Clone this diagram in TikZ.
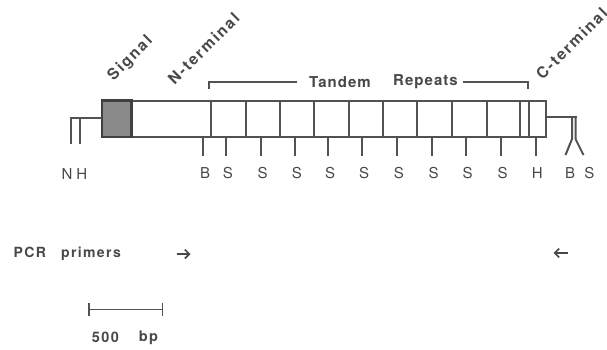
\documentclass[tikz,border=0pt]{standalone}
\usepackage{fontspec}
\setmainfont{TeX Gyre Heros}
\newfontfamily\sitefont[LetterSpace=4]{TeX Gyre Heros}
\newfontfamily\headfont[LetterSpace=7]{TeX Gyre Heros}
\newfontfamily\slantfont[LetterSpace=12]{TeX Gyre Heros}
\newfontfamily\notefont[LetterSpace=10]{TeX Gyre Heros}
\usetikzlibrary{arrows.meta,calc}
\definecolor{ink}{HTML}{525252}
\definecolor{txt}{HTML}{484848}
\definecolor{sigfill}{HTML}{8A8A8A}
\definecolor{sigedge}{HTML}{404040}

\begin{document}
\begin{tikzpicture}[x=1pt,y=-1pt,
  ln/.style={draw=ink,line width=2pt},
  site/.style={inner sep=0pt,text=txt,font=\sitefont\fontsize{15}{15}\selectfont},
  head/.style={inner sep=0pt,text=txt,font=\headfont\bfseries\fontsize{15}{15}\selectfont},
  diag/.style={inner sep=0pt,text=txt,font=\slantfont\bfseries\fontsize{15.5}{15.5}\selectfont,rotate=45,anchor=base west},
  note/.style={inner sep=0pt,text=txt,font=\notefont\bfseries\fontsize{14}{14}\selectfont},
  primer/.style={draw=txt,line width=1.7pt,-{Straight Barb[length=4.5pt,width=9pt]}}]
\useasboundingbox (0,0) rectangle (607,349);

% gene body with the signal segment
\fill[sigfill] (102,100.5) rectangle (131.5,136.7);
\node[ln,minimum width=443.5pt,minimum height=36.2pt,inner sep=0pt] (gene) at (323.75,118.6) {};
\draw[line width=2.1pt,draw=sigedge] (102,100.5) rectangle (131.5,136.7);

% repeat boundaries inside the gene
\foreach \x [count=\i] in {210.7,245.7,280,314.3,349,383.3,417.3,452.3,487,519.5,529.3} {
  \coordinate (dt\i) at (\x,100.5);
  \coordinate (db\i) at (\x,136.7);
  \draw[ln] (dt\i) -- (db\i);
}

% restriction sites below the gene
\foreach \x/\l [count=\i] in {203.3/B,226/S,260.7/S,295/S,328.3/S,362.3/S,397/S,431.7/S,465.7/S,500.7/S,535.5/H} {
  \coordinate (st\i) at (\x,136.7);
  \coordinate (se\i) at (\x,155.5);
  \draw[ln] (st\i) -- (se\i);
  \node[site] (sl\i) at (\x+1.8,173.5) {\l};
}

% 5' flank with N and H sites
\coordinate (n0) at (102,118.3);
\coordinate (n1) at (71,118.3);
\coordinate (n2) at (71,143.5);
\coordinate (h1) at (80,118.3);
\coordinate (h2) at (80,143.5);
\draw[ln] (n0) -- (n1) -- (n2);
\draw[ln] (h1) -- (h2);
\node[site] (nlab) at (67,174.5) {N};
\node[site] (hlab) at (81.7,174.5) {H};

% 3' flank with B and S sites
\coordinate (c0) at (545.5,117);
\coordinate (c1) at (576.5,117);
\coordinate (c2) at (575.5,139);
\coordinate (c3) at (583.5,155);
\coordinate (b1) at (572,117);
\coordinate (b2) at (572,139);
\coordinate (b3) at (565.5,155);
\draw[ln] (c0) -- (c1);
\draw[ln] (c2 |- c1) -- (c2) -- (c3);
\draw[ln] (b1) -- (b2) -- (b3);
\node[site] (blab) at (570,173.5) {B};
\node[site] (slab) at (589.3,173.5) {S};

% tandem repeat bracket
\coordinate (tl0) at (208.7,89);
\coordinate (tl1) at (208.7,81.7);
\coordinate (tl2) at (297,81.7);
\coordinate (tr0) at (463,81.7);
\coordinate (tr1) at (528,81.7);
\coordinate (tr2) at (528,88.8);
\draw[ln] (tl0) -- (tl1) -- (tl2);
\draw[ln] (tr0) -- (tr1) -- (tr2);
\node[head] (tandem) at (340,81.7) {Tandem};
\node[head] (repeats) at (425.5,81.7) {Repeats};

% domain labels
\node[diag] (signal) at (113.5,81.5) {Signal};
\node[diag] (nterm) at (174.5,86) {N-terminal};
\begin{scope}
\clip (0,0) rectangle (607,349);
\node[diag] (cterm) at (542.5,81) {C-terminal};
\end{scope}

% PCR primers
\node[note,anchor=west] (pcr) at (13.5,254) {PCR\hspace{15pt}primers};
\coordinate (pf0) at (176.5,254);
\coordinate (pf1) at (190.5,254);
\draw[primer] (pf0) -- (pf1);
\coordinate (pr0) at (567.5,253);
\coordinate (pr1) at (553.5,253);
\draw[primer] (pr0) -- (pr1);

% scale bar
\coordinate (sb0) at (88.3,309.3);
\coordinate (sb1) at (163.3,309.3);
\draw[ln,line width=1.6pt,{Bar[width=13pt]}-{Bar[width=13pt]}] (sb0) -- (sb1);
\node[note,font=\notefont\bfseries\fontsize{14.5}{14.5}\selectfont] (bp500) at (105.5,337.5) {500};
\node[note,font=\notefont\bfseries\fontsize{14.5}{14.5}\selectfont] (bp) at (148.5,337.5) {bp};
\end{tikzpicture}
\end{document}
